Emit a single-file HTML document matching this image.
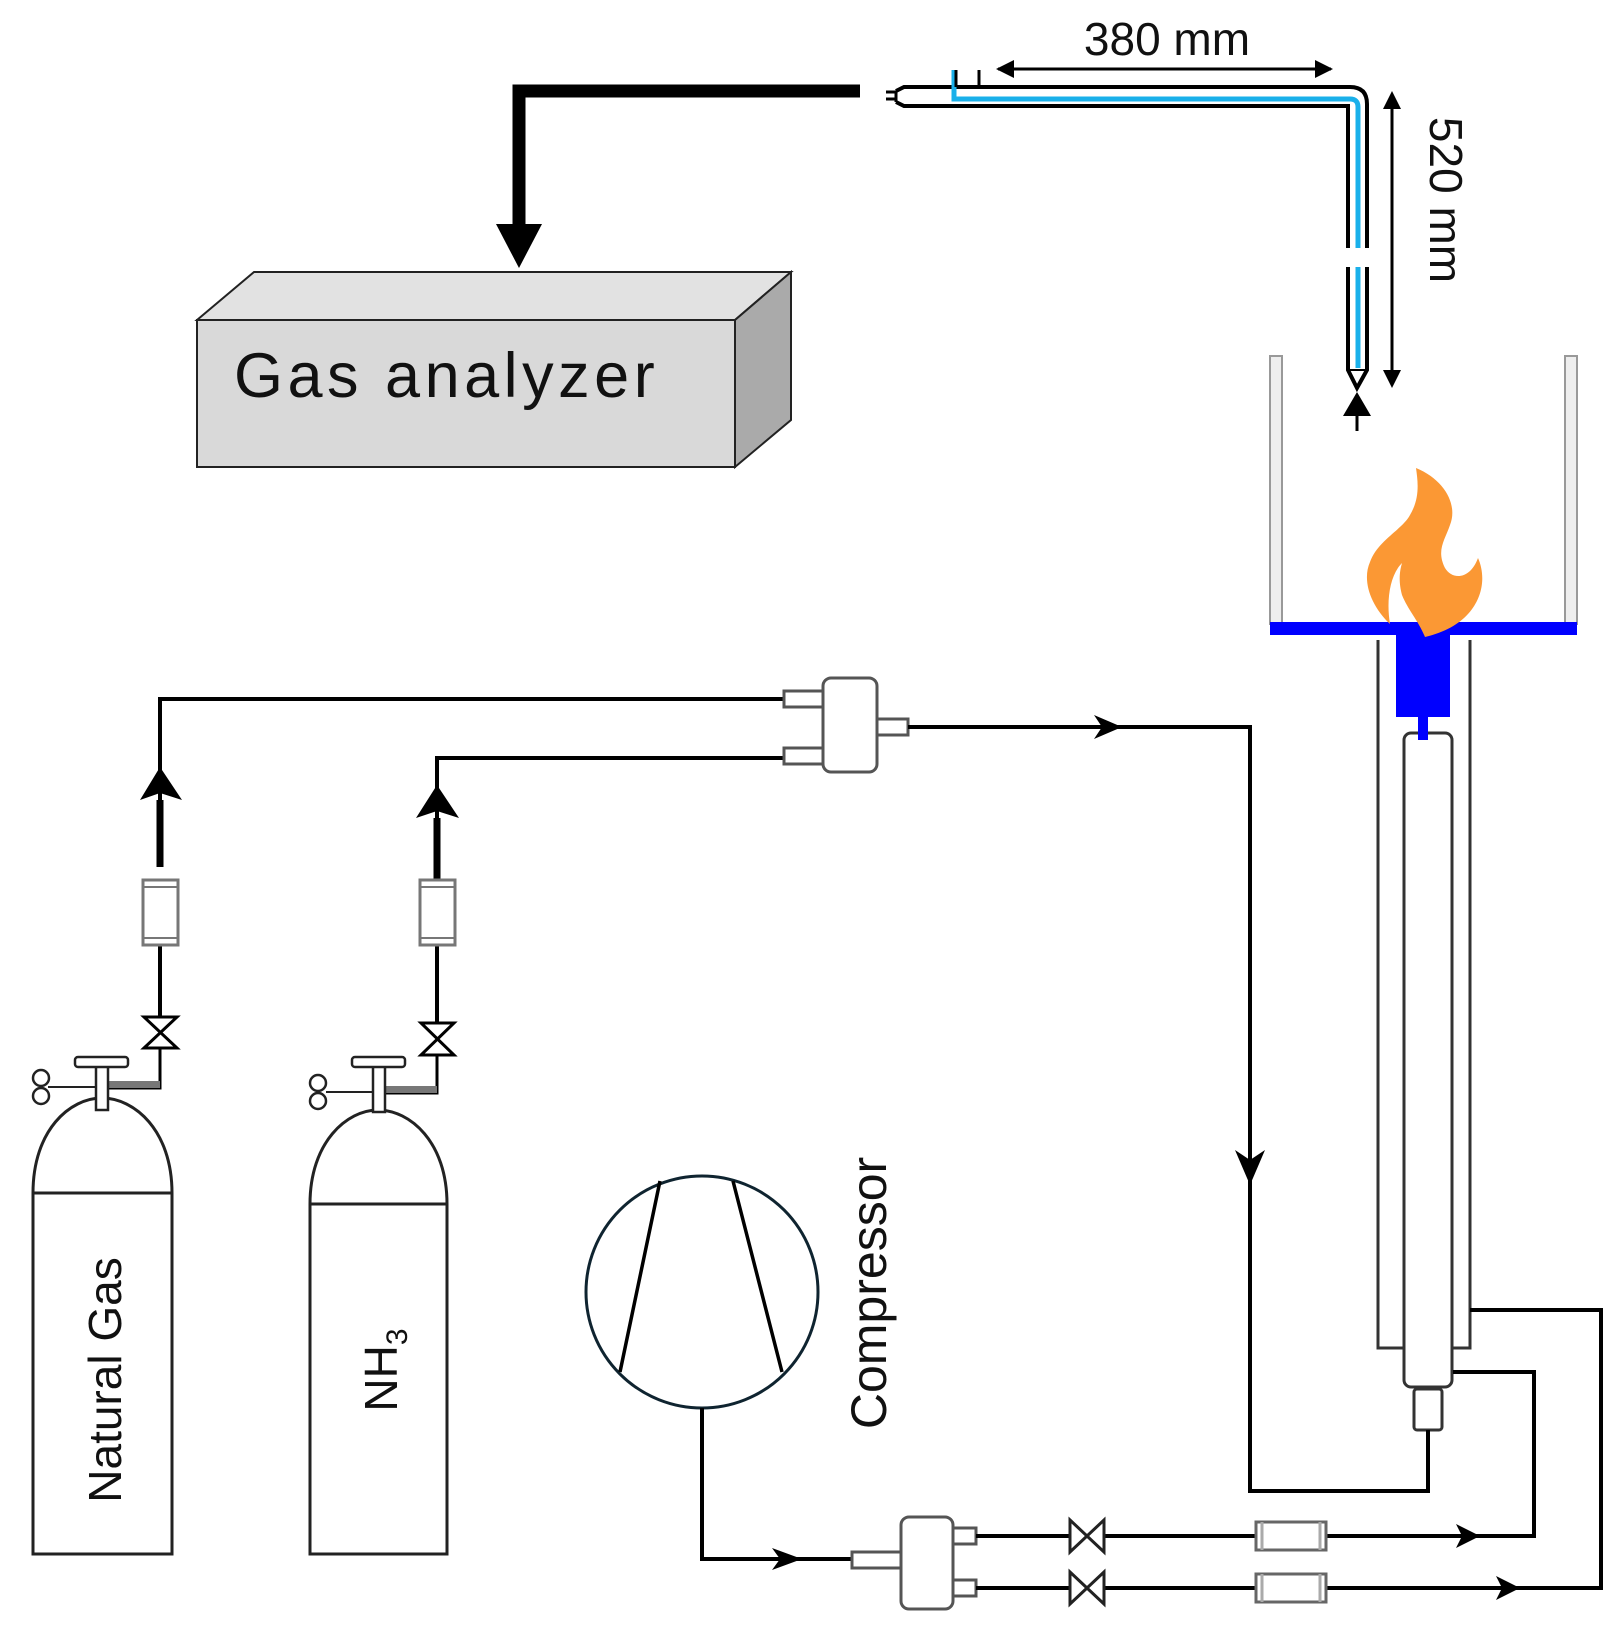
<!DOCTYPE html>
<html><head><meta charset="utf-8"><style>
html,body{margin:0;padding:0;background:#fff}
svg{display:block}
text{font-family:"Liberation Sans",sans-serif}
</style></head><body>
<svg width="1619" height="1633" viewBox="0 0 1619 1633" xmlns="http://www.w3.org/2000/svg">

<!-- big arrow to analyzer -->
<path d="M860,91 H519 V230" fill="none" stroke="#000" stroke-width="13"/>
<polygon points="496,224 542,224 519,268" fill="#000"/>

<!-- Gas analyzer box -->
<polygon points="197,320 254,272 791,272 735,320" fill="#e2e2e2" stroke="#222" stroke-width="2"/>
<polygon points="735,320 791,272 791,420 735,467" fill="#aaaaaa" stroke="#222" stroke-width="2"/>
<rect x="197" y="320" width="538" height="147" fill="#d9d9d9" stroke="#222" stroke-width="2"/>
<text x="234" y="397" font-size="63" letter-spacing="4.5" fill="#111">Gas analyzer</text>

<!-- probe -->
<path d="M886,92 H896 M886,99 H896" stroke="#000" stroke-width="3"/>
<path d="M896,91 L904,87 H1350 Q1367,87 1367,104 V248" fill="none" stroke="#000" stroke-width="4"/>
<path d="M896,102 L904,106 H1348 V248" fill="none" stroke="#000" stroke-width="4"/>
<path d="M896,91 V102" stroke="#000" stroke-width="3"/>
<path d="M1367,267 V370 L1357,388 L1348,370 V267" fill="#fff" stroke="#000" stroke-width="4"/>
<path d="M954,70 V99 H1350 Q1358,99 1358,107 V248 M1358,267 V368" fill="none" stroke="#1ab0ea" stroke-width="5"/>
<path d="M956,70 V87 M979,70 V87" stroke="#000" stroke-width="3"/>
<path d="M1348,370 H1367" stroke="#000" stroke-width="2"/>

<!-- dimension arrows -->
<line x1="998" y1="69" x2="1331" y2="69" stroke="#000" stroke-width="3"/>
<polygon points="996,69 1014,60 1014,78" fill="#000"/>
<polygon points="1333,69 1315,60 1315,78" fill="#000"/>
<text x="1167" y="55" font-size="46" text-anchor="middle" fill="#111">380 mm</text>
<line x1="1392" y1="94" x2="1392" y2="385" stroke="#000" stroke-width="3"/>
<polygon points="1392,91 1383,109 1401,109" fill="#000"/>
<polygon points="1392,388 1383,370 1401,370" fill="#000"/>
<text transform="translate(1430,200) rotate(90)" font-size="46" text-anchor="middle" fill="#111">520 mm</text>

<!-- sampling arrow -->
<line x1="1357" y1="410" x2="1357" y2="431" stroke="#000" stroke-width="3"/>
<polygon points="1357,392 1343,416 1371,416" fill="#000"/>

<!-- walls -->
<rect x="1270" y="356" width="12" height="268" fill="#eee" stroke="#999" stroke-width="2"/>
<rect x="1565" y="356" width="12" height="268" fill="#eee" stroke="#999" stroke-width="2"/>

<!-- outer tube -->
<path d="M1378,640 V1348 H1405 M1470,640 V1348 H1451" fill="none" stroke="#333" stroke-width="3"/>
<!-- inner tube -->
<rect x="1404" y="733" width="48" height="654" rx="7" fill="#fff" stroke="#333" stroke-width="3"/>
<rect x="1414" y="1389" width="28" height="41" rx="3" fill="#fff" stroke="#333" stroke-width="3"/>

<!-- blue burner -->
<rect x="1270" y="622" width="307" height="13" fill="#0000ff"/>
<rect x="1396" y="634" width="54" height="83" fill="#0000ff"/>
<rect x="1418" y="716" width="10" height="24" fill="#0000ff"/>

<!-- flame -->
<path d="M1416,468 C1445,480 1458,505 1450,525 C1445,540 1436,550 1445,568 C1452,580 1470,580 1478,558 C1490,585 1478,625 1425,637 C1418,620 1408,610 1402,595 C1398,580 1400,570 1402,563 C1390,575 1386,600 1390,624 C1370,605 1362,580 1370,562 C1378,540 1402,530 1410,515 C1420,498 1418,482 1416,468 Z" fill="#fb9834"/>

<!-- NG line -->
<path d="M160,945 V880 M160,1017 V945 M160,867 V699 H783" fill="none" stroke="#000" stroke-width="4"/>
<line x1="160" y1="800" x2="160" y2="867" stroke="#000" stroke-width="7"/>
<polygon points="160,767 140,800 160,793 182,800" fill="#000"/>
<rect x="143" y="880" width="35" height="65" fill="#fff" stroke="#777" stroke-width="3"/>
<path d="M143,887 H178 M143,938 H178" stroke="#777" stroke-width="2"/>
<path d="M144,1017 H177 L144,1048 H177 Z" fill="#fff" stroke="#000" stroke-width="3"/>
<path d="M160,1048 V1088 H105" fill="none" stroke="#000" stroke-width="3"/>
<rect x="105" y="1081" width="55" height="7" fill="#777"/>

<!-- NH3 line -->
<path d="M437,1023 V758 H783" fill="none" stroke="#000" stroke-width="4"/>
<line x1="437" y1="818" x2="437" y2="880" stroke="#000" stroke-width="7"/>
<polygon points="437,785 416,818 437,811 459,818" fill="#000"/>
<rect x="420" y="880" width="35" height="65" fill="#fff" stroke="#777" stroke-width="3"/>
<path d="M420,887 H455 M420,938 H455" stroke="#777" stroke-width="2"/>
<path d="M421,1023 H454 L421,1055 H454 Z" fill="#fff" stroke="#000" stroke-width="3"/>
<path d="M437,1055 V1093 H385" fill="none" stroke="#000" stroke-width="3"/>
<rect x="385" y="1086" width="52" height="7" fill="#777"/>

<!-- cylinders -->
<g fill="#fff" stroke="#222" stroke-width="3">
<path d="M33,1554 V1193 C33,1130 70,1098 102,1098 C134,1098 172,1130 172,1193 V1554 Z"/>
<line x1="33" y1="1193" x2="172" y2="1193"/>
<path d="M310,1554 V1204 C310,1142 347,1110 378,1110 C410,1110 447,1142 447,1204 V1554 Z"/>
<line x1="310" y1="1204" x2="447" y2="1204"/>
<rect x="96" y="1066" width="12" height="44" stroke-width="2.5"/>
<rect x="75" y="1057" width="53" height="10" rx="3" stroke-width="2.5"/>
<line x1="48" y1="1087" x2="96" y2="1087" stroke-width="2"/>
<circle cx="41" cy="1078" r="8" stroke-width="2.5"/>
<circle cx="41" cy="1096" r="8" stroke-width="2.5"/>
<rect x="373" y="1066" width="12" height="46" stroke-width="2.5"/>
<rect x="352" y="1057" width="53" height="10" rx="3" stroke-width="2.5"/>
<line x1="326" y1="1092" x2="373" y2="1092" stroke-width="2"/>
<circle cx="318" cy="1083" r="8" stroke-width="2.5"/>
<circle cx="318" cy="1101" r="8" stroke-width="2.5"/>
</g>
<text transform="translate(121,1380) rotate(-90)" font-size="46" text-anchor="middle" fill="#111">Natural Gas</text>
<text transform="translate(397,1370) rotate(-90)" font-size="46" text-anchor="middle" fill="#111">NH<tspan font-size="30" dy="10">3</tspan></text>

<!-- mixer top -->
<g fill="#fff" stroke="#555" stroke-width="3">
<rect x="784" y="691" width="40" height="16"/>
<rect x="784" y="748" width="40" height="16"/>
<rect x="876" y="719" width="32" height="16"/>
<rect x="823" y="678" width="54" height="94" rx="8"/>
</g>
<path d="M908,727 H1250 V1491 H1428 V1430" fill="none" stroke="#000" stroke-width="4"/>
<polygon points="1122,727 1094,715 1102,727 1094,739" fill="#000"/>
<polygon points="1250,1185 1235,1150 1250,1160 1265,1150" fill="#000"/>

<!-- compressor -->
<circle cx="702" cy="1292" r="116" fill="#fff" stroke="#0f2430" stroke-width="3"/>
<path d="M660,1181 L620,1372 M733,1181 L782,1372" stroke="#000" stroke-width="3.5"/>
<path d="M702,1408 V1559 H853" fill="none" stroke="#000" stroke-width="4"/>
<polygon points="802,1559 772,1548 780,1559 772,1570" fill="#000"/>
<text transform="translate(886,1293) rotate(-90)" font-size="50" text-anchor="middle" fill="#111">Compressor</text>

<!-- bottom mixer -->
<g fill="#fff" stroke="#555" stroke-width="3">
<rect x="852" y="1552" width="50" height="16"/>
<rect x="952" y="1528" width="24" height="16"/>
<rect x="952" y="1580" width="24" height="16"/>
<rect x="901" y="1517" width="52" height="92" rx="8"/>
</g>
<path d="M976,1536 H1534 V1372 H1453" fill="none" stroke="#000" stroke-width="4"/>
<path d="M976,1588 H1601 V1310 H1470" fill="none" stroke="#000" stroke-width="4"/>
<polygon points="1480,1536 1456,1524 1462,1536 1456,1548" fill="#000"/>
<polygon points="1520,1588 1496,1576 1502,1588 1496,1600" fill="#000"/>
<g fill="#fff" stroke="#222" stroke-width="3">
<path d="M1070,1520 V1552 L1104,1520 V1552 Z"/>
<path d="M1070,1572 V1604 L1104,1572 V1604 Z"/>
</g>
<g fill="#fff" stroke="#666" stroke-width="3">
<rect x="1256" y="1522" width="70" height="28"/>
<rect x="1256" y="1574" width="70" height="28"/>
</g>
<path d="M1262,1522 V1550 M1320,1522 V1550 M1262,1574 V1602 M1320,1574 V1602" stroke="#aaa" stroke-width="3"/>
</svg>
</body></html>
